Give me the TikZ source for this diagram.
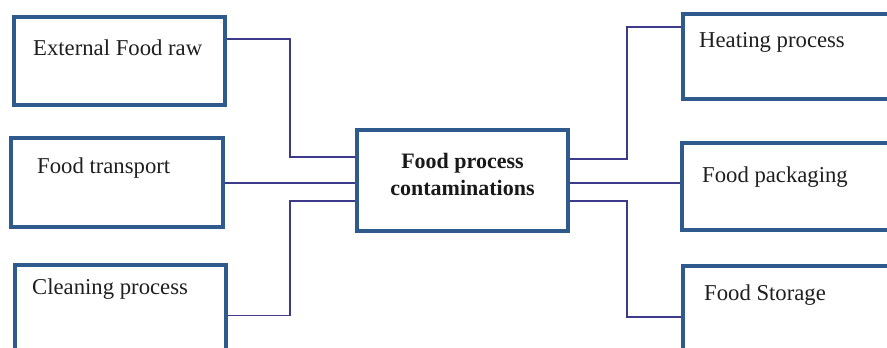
\documentclass[tikz,border=0pt]{standalone}
\usepackage{fontspec}
\setmainfont{Liberation Serif}
\begin{document}
\begin{tikzpicture}[x=1pt,y=-1pt,
  box/.style={draw=boxblue, line width=4pt, fill=white, inner sep=0pt},
  wire/.style={draw=wireblue, line width=1.5pt},
  lbl/.style={anchor=base west, inner sep=0pt, text=black!88,
              font=\fontsize{22.7}{27}\selectfont},
  hublbl/.style={anchor=base, inner sep=0pt, text=black!90,
              font=\fontsize{22}{27}\selectfont\bfseries}]
\definecolor{boxblue}{HTML}{2E5A8E}
\definecolor{wireblue}{HTML}{3D3A8A}
\useasboundingbox (0,0) rectangle (887,348);
\clip (0,0) rectangle (887,348);

% connector bend points
\coordinate (j1) at (290,157);
\coordinate (j3) at (290,201);
\coordinate (k1) at (627,159);
\coordinate (k2) at (627,183);
\coordinate (k3) at (627,201);

% boxes
\node[box, minimum width=211pt, minimum height=88pt]  (raw)   at (119.5,61) {};
\node[box, minimum width=212pt, minimum height=89pt]  (trans) at (117,182.5) {};
\node[box, minimum width=211pt, minimum height=105pt] (clean) at (120.5,317.5) {};
\node[box, minimum width=211pt, minimum height=101pt] (hub)   at (462.5,180.5) {};
\node[box, minimum width=217pt, minimum height=85pt]  (heat)  at (791.5,56.5) {};
\node[box, minimum width=218pt, minimum height=87pt]  (pack)  at (791,186.5) {};
\node[box, minimum width=217pt, minimum height=104pt] (store) at (791.5,318) {};

% connectors
\draw[wire] ([yshift=-24pt]raw.north east) -| (j1) -- (j1 -| hub.west);
\draw[wire] ([yshift=-0.5pt]trans.east) -- ([yshift=-0.5pt]trans.east -| hub.west);
\draw[wire] ([yshift=2pt]clean.east) -| (j3) -- (j3 -| hub.west);
\draw[wire] (k1 -| hub.east) -- (k1) |- ([yshift=-15pt]heat.north west);
\draw[wire] (k2 -| hub.east) -- (k2 -| pack.west);
\draw[wire] (k3 -| hub.east) -- (k3) |- ([yshift=-53pt]store.north west);

% texts
\node[lbl] (rawt)   at (33,55)   {External Food raw};
\node[lbl] (transt) at (37,173)  {Food transport};
\node[lbl] (cleant) at (32,294)  {Cleaning process};
\node[lbl] (heatt)  at (699,47)  {Heating process};
\node[lbl] (packt)  at (702,182) {Food packaging};
\node[lbl] (storet) at (704,300) {Food Storage};
\node[hublbl] (huba) at (462.5,168) {Food process};
\node[hublbl] (hubb) at (462.5,195) {contaminations};
\end{tikzpicture}
\end{document}
